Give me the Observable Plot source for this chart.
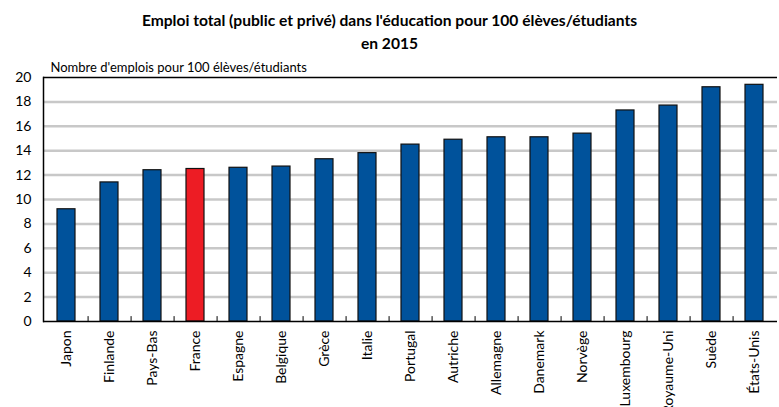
<!DOCTYPE html>
<html>
<head>
<meta charset="utf-8">
<script src="https://cdn.jsdelivr.net/npm/d3@7"></script>
<script src="https://cdn.jsdelivr.net/npm/@observablehq/plot@0.6"></script>
<style>
  html, body { margin: 0; padding: 0; background: #fff; overflow: hidden; width: 779px; height: 407px; }
  #wrap { position: relative; width: 779px; height: 407px; font-family: Lato, sans-serif; }
  #title { position: absolute; top: 9px; left: 0; width: 779px; text-align: center; font-weight: bold; font-size: 15.6px; line-height: 23px; color: #000; }
  #chart { position: absolute; top: 0; left: 0; }
</style>
</head>
<body>
<div id="wrap">
  <div id="chart"></div>
  <div id="title">Emploi total (public et privé) dans l'éducation pour 100 élèves/étudiants<br>en 2015</div>
</div>
<script>
const countries = ["Japon","Finlande","Pays-Bas","France","Espagne","Belgique","Grèce","Italie","Portugal","Autriche","Allemagne","Danemark","Norvège","Luxembourg","Royaume-Uni","Suède","États-Unis"];
const values = [9.2, 11.4, 12.4, 12.5, 12.6, 12.7, 13.3, 13.8, 14.5, 14.9, 15.1, 15.1, 15.4, 17.3, 17.7, 19.2, 19.4];
const highlight = "France";
const yTicks = [0, 2, 4, 6, 8, 10, 12, 14, 16, 18, 20];
const yLabel = "Nombre d'emplois pour 100 élèves/étudiants";

const data = countries.map((c, i) => ({country: c, value: values[i]}));

const W = 779, H = 470, mL = 43, mR = 2, mT = 77, mB = H - 321;
const step = (W - mL - mR) / countries.length;

const chart = Plot.plot({
  width: W,
  height: H,
  marginLeft: mL,
  marginRight: mR,
  marginTop: mT,
  marginBottom: mB,
  style: {fontFamily: "Lato, sans-serif", fontSize: "14px", color: "#000", background: "transparent", overflow: "visible"},
  x: {domain: countries, paddingInner: 0.58, paddingOuter: 0.29, label: null},
  y: {domain: [0, 20], label: null},
  marks: [
    Plot.gridY(yTicks.filter(t => t > 0 && t < 20), {stroke: "#c8c8c8", strokeOpacity: 1, strokeWidth: 2.5}),
    Plot.barY(data, {x: "country", y: "value", fill: d => d.country === highlight ? "#ed1c24" : "#00529b", stroke: "#111", strokeWidth: 1.2}),
    Plot.ruleY([20], {stroke: "#000", strokeWidth: 1.5}),
    Plot.ruleY([0], {stroke: "#000", strokeWidth: 1.5}),
    Plot.ruleX(countries.slice(0, -1), {x: d => d, y1: 0, y2: 0.4, dx: step / 2, stroke: "#000", strokeWidth: 1}),
    Plot.frame({anchor: "left", stroke: "#000", strokeWidth: 1.5}),
    Plot.axisY(yTicks, {tickSize: 0, tickPadding: 12, fontSize: 14, label: null}),
    Plot.axisX({tickSize: 0, tickRotate: -90, tickPadding: 9, fontSize: 14, label: null}),
    Plot.text([yLabel], {frameAnchor: "top-left", dx: 7, dy: -15, text: d => d, textAnchor: "start", fontSize: 13})
  ]
});
document.getElementById("chart").appendChild(chart);
</script>
</body>
</html>
